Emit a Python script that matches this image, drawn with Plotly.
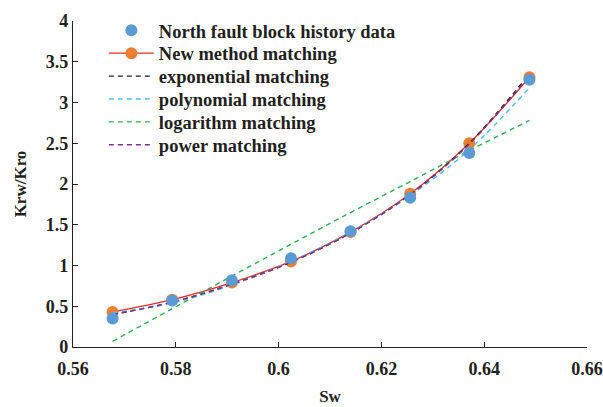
import plotly.graph_objects as go

sw = [0.5677, 0.5793, 0.5909, 0.6024, 0.6140, 0.6256, 0.6371, 0.6488]
history = [0.35, 0.57, 0.82, 1.09, 1.42, 1.83, 2.38, 3.28]
new_method = [0.43, 0.58, 0.79, 1.05, 1.41, 1.88, 2.50, 3.31]
exponential = [0.40, 0.55, 0.77, 1.04, 1.40, 1.87, 2.50, 3.35]
polynomial = [0.42, 0.54, 0.76, 1.05, 1.41, 1.86, 2.42, 3.18]
logarithm = [0.07, 0.47, 0.87, 1.26, 1.65, 2.03, 2.41, 2.78]
power = [0.40, 0.55, 0.77, 1.04, 1.40, 1.87, 2.49, 3.33]

x_ticks = [0.56, 0.58, 0.6, 0.62, 0.64, 0.66]
x_tick_text = ["0.56", "0.58", "0.6", "0.62", "0.64", "0.66"]
y_ticks = [0, 0.5, 1, 1.5, 2, 2.5, 3, 3.5, 4]
y_tick_text = ["0", "0.5", "1", "1.5", "2", "2.5", "3", "3.5", "4"]

FONT = "Liberation Serif"
INK = "#231F20"
DASH = "5px,4px"

fig = go.Figure()
fig.add_trace(go.Scatter(x=sw, y=new_method, mode="lines+markers", name="New method matching",
                         line=dict(color="#F02828", width=1.3, shape="spline"),
                         marker=dict(color="#ED7D31", size=12), legend="legend2"))
fig.add_trace(go.Scatter(x=sw, y=exponential, mode="lines", name="exponential matching",
                         line=dict(color="#222222", width=1.4, dash=DASH, shape="spline"), legend="legend3"))
fig.add_trace(go.Scatter(x=sw, y=polynomial, mode="lines", name="polynomial matching",
                         line=dict(color="#4DBEEE", width=1.4, dash=DASH, shape="spline"), legend="legend4"))
fig.add_trace(go.Scatter(x=sw, y=logarithm, mode="lines", name="logarithm matching",
                         line=dict(color="#2DB34A", width=1.4, dash=DASH, shape="spline"), legend="legend5"))
fig.add_trace(go.Scatter(x=sw, y=power, mode="lines", name="power matching",
                         line=dict(color="#7E2F8E", width=1.4, dash=DASH, shape="spline"), legend="legend6"))
fig.add_trace(go.Scatter(x=sw, y=history, mode="markers", name="North fault block history data",
                         marker=dict(color="#5B9BD5", size=12), legend="legend"))

PLOT_TOP, PLOT_BOTTOM = 15, 347
row_px = [25, 48.3, 71.6, 94.9, 118.2, 141.5]
legend_names = ["legend", "legend2", "legend3", "legend4", "legend5", "legend6"]
legends = {}
for name, r in zip(legend_names, row_px):
    legends[name] = dict(x=0.06, y=(PLOT_BOTTOM - r) / (PLOT_BOTTOM - PLOT_TOP),
                         xref="paper", yref="paper",
                         xanchor="left", yanchor="middle",
                         font=dict(family=FONT, size=18.5, color=INK, weight="bold"),
                         bgcolor="rgba(0,0,0,0)", itemwidth=45)

fig.update_layout(
    width=603, height=407,
    margin=dict(l=73, r=16, t=PLOT_TOP, b=407 - PLOT_BOTTOM),
    paper_bgcolor="white", plot_bgcolor="white",
    font=dict(family=FONT, color=INK),
    showlegend=True,
    **legends,
    xaxis=dict(range=[0.56, 0.66], tickvals=x_ticks, ticktext=x_tick_text, automargin=False,
               showgrid=False, zeroline=False, showline=True, linecolor=INK, linewidth=1.3,
               ticks="inside", ticklen=5, tickcolor=INK, ticklabelstandoff=5,
               tickfont=dict(family=FONT, size=18, weight="bold"),
               title=dict(text="Sw", font=dict(family=FONT, size=17, weight="bold"), standoff=12)),
    yaxis=dict(range=[0, 4], tickvals=y_ticks, ticktext=y_tick_text, automargin=False,
               showgrid=False, zeroline=False, showline=True, linecolor=INK, linewidth=1.3,
               ticks="inside", ticklen=5, tickcolor=INK,
               tickfont=dict(family=FONT, size=18, weight="bold"),
               title=dict(text="Krw/Kro", font=dict(family=FONT, size=17, weight="bold"), standoff=14)),
)

fig.write_html("out.html")
